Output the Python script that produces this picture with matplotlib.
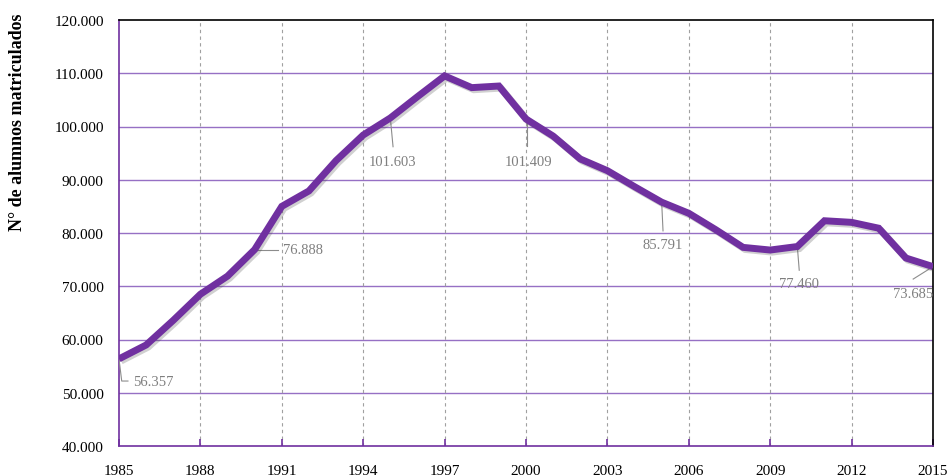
import matplotlib
matplotlib.use("Agg")
import matplotlib.pyplot as plt
import matplotlib.patheffects as pe
from matplotlib.ticker import FuncFormatter, MultipleLocator

# Alumnos matriculados por año
years = list(range(1985, 2016))
students = [56357, 58970, 63600, 68500, 71900, 76888, 85000, 87900, 93600, 98400,
            101603, 105600, 109500, 107300, 107600, 101409, 98200, 93900, 91700, 88700,
            85791, 83700, 80600, 77300, 76800, 77460, 82300, 82000, 80900, 75300, 73685]
xticks = list(range(1985, 2016, 3))

# etiquetas: (valor, posición del texto, alineación, guía)
labels = [
    (56357, (1985.52, 52200), "left", [(1985, 56357), (1985.1, 52200), (1985.33, 52200)]),
    (76888, (1991.05, 76888), "left", [(1990, 76888), (1990.85, 76888)]),
    (101603, (1994.2, 93500), "left", [(1995, 101603), (1995.1, 96200)]),
    (101409, (1999.23, 93500), "left", [(2000.05, 101300), (2000.05, 96300)]),
    (85791, (2004.31, 77750), "left", [(2005, 85791), (2005.05, 80400)]),
    (77460, (2009.33, 70450), "left", [(2010, 77460), (2010.07, 73000)]),
    (73685, (2015.0, 68550), "right", [(2015, 73685), (2014.27, 71350)]),
]

PURPLE = "#7030a0"
GRID_PURPLE = "#9670c4"

plt.rcParams["font.family"] = ["Liberation Serif", "DejaVu Serif"]

fig = plt.figure(figsize=(9.49, 4.77), dpi=100)
ax = fig.add_axes([119 / 949, 30 / 477, 814 / 949, 426 / 477])

ax.plot(years, students, color=PURPLE, linewidth=5, solid_joinstyle="miter",
        solid_capstyle="butt", zorder=5,
        path_effects=[pe.SimpleLineShadow(offset=(1.5, -1.5), shadow_color="#444444", alpha=0.25),
                      pe.Normal()])

for val, (tx, ty), ha, pts in labels:
    xs, ys = zip(*pts)
    ax.plot(xs, ys, color="#8c8c8c", linewidth=0.8, zorder=4)
    ax.text(tx, ty, f"{val:,}".replace(",", "."), color="#7f7f7f", fontsize=10.5,
            ha=ha, va="center", zorder=6)

ax.set_xlim(1985, 2015)
ax.set_ylim(40000, 120000)
ax.set_xticks(xticks)
ax.yaxis.set_major_locator(MultipleLocator(10000))
ax.yaxis.set_major_formatter(FuncFormatter(lambda v, p: f"{int(v):,}".replace(",", ".")))

for v in range(50000, 120000, 10000):
    ax.axhline(v, color=GRID_PURPLE, linewidth=1.0, zorder=1)
for yr in xticks[1:-1]:
    ax.axvline(yr, color="#a0a0a0", linewidth=0.8, linestyle=(0, (3, 3)), zorder=1)

for side in ["top", "right"]:
    ax.spines[side].set_color("black")
    ax.spines[side].set_linewidth(1.2)
for side in ["left", "bottom"]:
    ax.spines[side].set_color(PURPLE)
    ax.spines[side].set_linewidth(1.2)

ax.tick_params(axis="x", direction="in", length=5, color=PURPLE, width=1.2,
               labelsize=11, pad=13)
ax.tick_params(axis="y", length=0, labelsize=11, pad=11)

ax.set_ylabel("N° de alumnos matriculados", fontsize=13, fontweight="bold")
ax.yaxis.set_label_coords(-0.114, 0.763)

fig.savefig("out.png", dpi=100)
